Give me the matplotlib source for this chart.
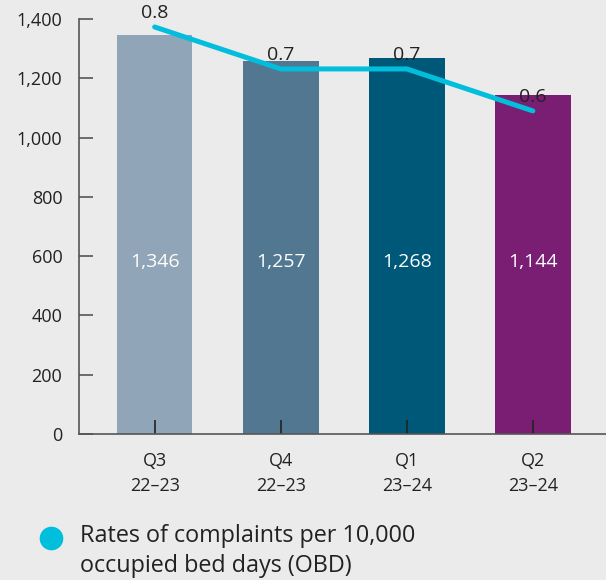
import matplotlib
matplotlib.use("Agg")
import matplotlib.pyplot as plt
from matplotlib.lines import Line2D

plt.rcParams['font.family'] = ['Open Sans', 'DejaVu Sans']

quarters = ["Q3\n22–23", "Q4\n22–23", "Q1\n23–24", "Q2\n23–24"]
complaints = [1346, 1257, 1268, 1144]
rates = [0.8, 0.7, 0.7, 0.6]
bar_colors = ["#91a5b9", "#527891", "#005878", "#7a1e74"]
legend_label = "Rates of complaints per 10,000\noccupied bed days (OBD)"

bg = "#ebebeb"
line_color = "#00bedc"
text_color = "#222222"

fig = plt.figure(figsize=(6.06, 5.80), dpi=100, facecolor=bg)
ax = fig.add_axes([79 / 606, 1 - 434 / 580, 1 - 79 / 606, (434 - 19) / 580])
ax.set_facecolor(bg)

x = list(range(len(quarters)))
bars = ax.bar(x, complaints, width=0.6, color=bar_colors, zorder=1)

for xi, val in zip(x, complaints):
    ax.text(xi, 580, f"{val:,}", ha="center", va="center",
            color="white", fontsize=14)

ax.set_xlim(-0.6, 3.58)
ax.set_ylim(0, 1400)
ax.set_yticks(range(0, 1401, 200))
ax.set_yticklabels([f"{v:,}" for v in range(0, 1401, 200)])
ax.set_xticks(x)
ax.set_xticklabels(quarters, linespacing=1.5)

for side in ("top", "right"):
    ax.spines[side].set_visible(False)
for side in ("left", "bottom"):
    ax.spines[side].set_color("#555555")
    ax.spines[side].set_linewidth(1.2)

ax.tick_params(axis="y", direction="in", length=10, width=1.2,
               color="#555555", labelsize=13, labelcolor=text_color, pad=12)
ax.tick_params(axis="x", direction="in", length=10, width=1.2,
               color="#222222", labelsize=13, labelcolor=text_color, pad=13)

# rate line on its own scale
r_lo, r_hi = -0.17, 0.819
ax2 = ax.twinx()
ax2.set_ylim(r_lo, r_hi)
ax2.axis("off")
ax2.plot(x, rates, color=line_color, linewidth=3.6,
         solid_capstyle="round", solid_joinstyle="round", zorder=3)

for xi, r, top in zip(x, rates, complaints):
    # label centre in bar units; white only when it sits well inside the bar
    label_y = (r - r_lo) / (r_hi - r_lo) * 1400 + 47
    inside = label_y + 40 < top
    ax2.annotate(f"{r:.1f}", (xi, r), xytext=(0, 10), textcoords="offset points",
                 ha="center", va="center", fontsize=14,
                 color="white" if inside else text_color)

fig.add_artist(Line2D([51 / 606], [1 - 538 / 580], transform=fig.transFigure,
                      marker="o", markersize=16, color=line_color,
                      linestyle="none"))
fig.text(80 / 606, 1 - 551 / 580, legend_label, ha="left", va="center",
         fontsize=16.8, color=text_color, linespacing=1.33)

fig.savefig("out.png", dpi=100, facecolor=bg)
